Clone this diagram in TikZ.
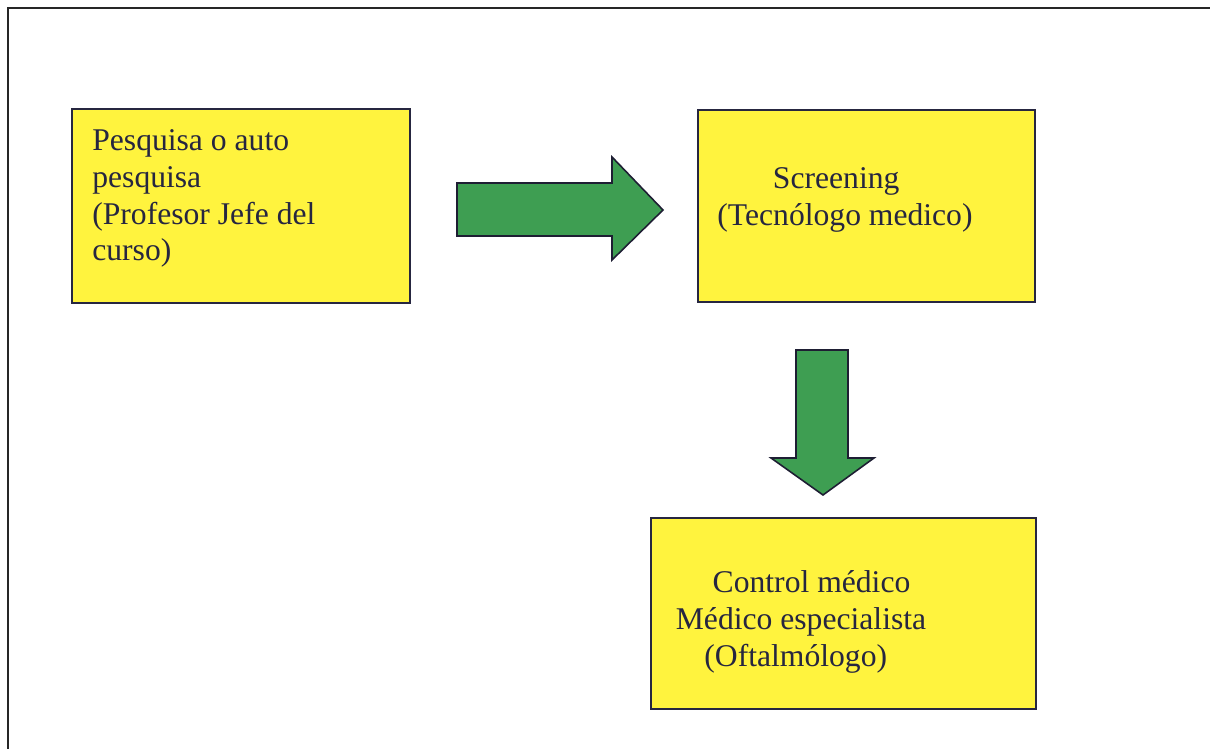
\documentclass[tikz,border=0pt]{standalone}
\usepackage{fontspec}
\setmainfont{Liberation Serif}

\definecolor{amarillo}{RGB}{255,243,62}
\definecolor{verde}{RGB}{62,158,82}
\definecolor{tinta}{RGB}{38,38,64}

\tikzset{
    caja/.style={draw=tinta, line width=1.1pt, fill=amarillo, inner sep=0pt},
    texto/.style={inner sep=0pt, text=tinta, font=\fontsize{18}{21}\selectfont},
    flecha/.style={draw=tinta!80!black, line width=0.9pt, fill=verde, line join=miter},
    marco/.style={draw=black!85, line width=0.9pt}
}

\begin{document}
\begin{tikzpicture}[x=0.02cm, y=-0.02cm]
    \useasboundingbox (0,0) rectangle (1210,749);
    \draw[marco] (8,749) -- (8,8) -- (1210,8);

    % boxes
    \node[caja, minimum width=6.76cm, minimum height=3.88cm] (pesquisa) at (241,206) {};
    \node[caja, minimum width=6.74cm, minimum height=3.84cm] (screening) at (866.5,206) {};
    \node[caja, minimum width=7.70cm, minimum height=3.82cm] (control) at (843.5,613.5) {};

    \node[texto, align=left, anchor=north west] (tpesquisa) at (92,129)
        {Pesquisa o auto\\pesquisa\\(Profesor Jefe del\\curso)};
    \node[texto, align=center, anchor=north] (tscreening) at (845,167)
        {\hspace*{-10pt}Screening\\(Tecnólogo medico)};
    \node[texto, align=center, anchor=north] (tcontrol) at (801,570)
        {\hspace*{12pt}Control médico\\Médico especialista\\\hspace*{-6pt}(Oftalmólogo)};

    % block arrows
    \draw[flecha] (457,183) -- (612,183) -- (612,157) -- (663,210)
        -- (612,260) -- (612,236) -- (457,236) -- cycle;
    \draw[flecha] (796,350) -- (848,350) -- (848,458) -- (874,458)
        -- (823,495) -- (771,458) -- (796,458) -- cycle;
\end{tikzpicture}
\end{document}
